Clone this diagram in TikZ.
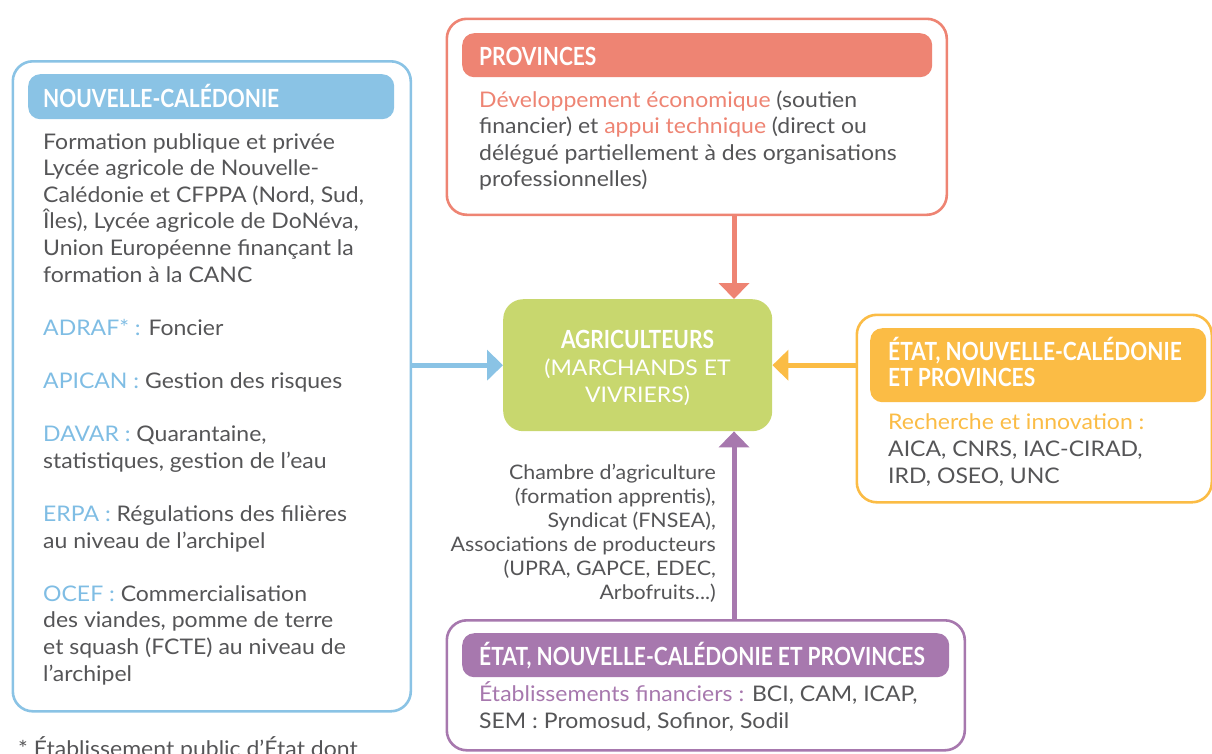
\documentclass[tikz,border=0pt]{standalone}
\usepackage{fontspec}
\setmainfont{Lato}[FakeStretch=1.07]
\newfontfamily\ttlfont{Lato}[FakeStretch=0.84]
\usetikzlibrary{arrows.meta,calc}
\definecolor{cblue}{HTML}{8AC3E5}
\definecolor{cbluet}{HTML}{7FBDE4}
\definecolor{cred}{HTML}{EE8473}
\definecolor{cgreen}{HTML}{C8D76E}
\definecolor{corange}{HTML}{FBBC45}
\definecolor{cpurple}{HTML}{A778AE}
\definecolor{ctext}{HTML}{555557}
\begin{document}
\begin{tikzpicture}[x=1pt,y=-1pt,
 frame/.style={draw=#1, line width=2.6pt, rounded corners=20pt, anchor=north west, inner sep=0pt, fill=white},
 header/.style={fill=#1, rounded corners=12pt, anchor=north west, inner sep=0pt},
 ttl/.style={anchor=base west, inner sep=0pt, text=white, font=\ttlfont\bfseries\fontsize{25}{26}\selectfont},
 body/.style={anchor=base west, inner sep=0pt, text=ctext, font=\fontsize{21.5}{26.6}\selectfont},
 conn/.style={draw=#1, line width=5pt, -{Triangle[width=30pt,length=16pt]}},
]
\useasboundingbox (0,0) rectangle (1212,753);

% frames
\node[frame=cblue, minimum width=398pt, minimum height=650pt] (ncf) at (11.5,60) {};
\node[header=cblue, minimum width=366pt, minimum height=45pt] (nch) at (28,74) {};
\node[frame=cred, minimum width=500pt, minimum height=196pt] (prf) at (445.5,17.5) {};
\node[header=cred, minimum width=470pt, minimum height=44pt] (prh) at (462,33) {};
\node[frame=corange, minimum width=355pt, minimum height=187.5pt] (orf) at (855.5,313.5) {};
\node[header=corange, minimum width=336pt, minimum height=74pt] (orh) at (870,328) {};
\node[frame=cpurple, minimum width=518pt, minimum height=130pt] (puf) at (445.5,619) {};
\node[header=cpurple, minimum width=487pt, minimum height=44pt] (puh) at (462,633) {};
\node[fill=cgreen, rounded corners=20pt, anchor=north west, inner sep=0pt, minimum width=269pt, minimum height=132pt] (ag) at (503,299) {};

% titles
\node[ttl] (nct) at (43,107) {NOUVELLE-CALÉDONIE};
\node[ttl] (prt) at (479,65) {PROVINCES};
\node[ttl] (ort) at (888,360) {\parbox[t]{320pt}{\raggedright ÉTAT, NOUVELLE-CALÉDONIE\\ET PROVINCES}};
\node[ttl] (put) at (479,665) {ÉTAT, NOUVELLE-CALÉDONIE ET PROVINCES};

% bodies
\node[body] (ncb) at (43,149) {\parbox[t]{365pt}{\raggedright\leavevmode
Formation publique et privée\\
Lycée agricole de Nouvelle-\\
Calédonie et CFPPA (Nord, Sud,\\
Îles), Lycée agricole de DoNéva,\\
Union Européenne finançant la\\
formation à la CANC\\[26.6pt]
{\color{cbluet}ADRAF* :} Foncier\\[26.6pt]
{\color{cbluet}APICAN :} Gestion des risques\\[26.6pt]
{\color{cbluet}DAVAR :} Quarantaine,\\
statistiques, gestion de l’eau\\[26.6pt]
{\color{cbluet}ERPA :} Régulations des filières\\
au niveau de l’archipel\\[26.6pt]
{\color{cbluet}OCEF :} Commercialisation\\
des viandes, pomme de terre\\
et squash (FCTE) au niveau de\\
l’archipel}};

\node[body] (prb) at (479,107) {\parbox[t]{460pt}{\raggedright\leavevmode
{\color{cred}Développement économique} (soutien\\
financier) et {\color{cred}appui technique} (direct ou\\
délégué partiellement à des organisations\\
professionnelles)}};

\node[body, font=\fontsize{21.5}{27}\selectfont] (orb) at (888,429) {\parbox[t]{320pt}{\raggedright\leavevmode
{\color{corange}Recherche et innovation :}\\
AICA, CNRS, IAC-CIRAD,\\
IRD, OSEO, UNC}};

\node[body, font=\fontsize{21.5}{27}\selectfont] (pub) at (479,701) {\parbox[t]{480pt}{\raggedright\leavevmode
{\color{cpurple}Établissements financiers :} BCI, CAM, ICAP,\\
SEM : Promosud, Sofinor, Sodil}};

% green text
\node[anchor=base, inner sep=0pt, text=white, font=\fontsize{21.5}{27}\selectfont] (agt) at (637.5,348) {\parbox[t]{260pt}{\centering\leavevmode
{\ttlfont\bfseries\fontsize{25}{27}\selectfont AGRICULTEURS}\\
(MARCHANDS ET\\
VIVRIERS)}};

% label on purple connector
\node[anchor=base east, inner sep=0pt, text=ctext, font=\fontsize{20}{24}\selectfont] (lab) at (716,479) {\parbox[t]{280pt}{\raggedleft\leavevmode
Chambre d’agriculture\\
(formation apprentis),\\
Syndicat (FNSEA),\\
Associations de producteurs\\
(UPRA, GAPCE, EDEC,\\
Arbofruits...)}};

% footnote
\node[body] (fn) at (18,756) {* Établissement public d’État dont};

% connectors
\coordinate (ax) at (734,0);
\draw[conn=cred] (ax |- prf.south) -- (ax |- ag.north);
\draw[conn=cpurple] (ax |- puf.north) -- (ax |- ag.south);
\draw[conn=cblue] (ncf.east |- ag.west) -- (ag.west);
\draw[conn=corange] (orf.west |- ag.east) -- (ag.east);
\end{tikzpicture}
\end{document}
